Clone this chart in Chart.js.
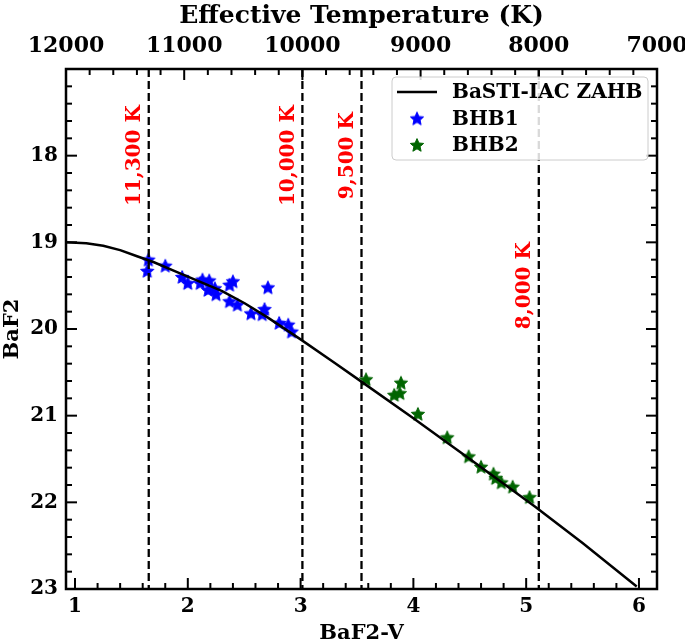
<!DOCTYPE html>
<html>
<head>
<meta charset="utf-8">
<script src="https://cdn.jsdelivr.net/npm/chart.js@4"></script>
<style>
  html, body { margin: 0; padding: 0; background: #fff; }
  #chart { display: block; }
</style>
</head>
<body>
<canvas id="chart" width="685" height="644"></canvas>
<script>
// ZAHB model line (BaF2-V, BaF2)
const zahbX = [0.92, 1.10, 1.25, 1.40, 1.55, 1.70, 1.90, 2.10, 2.30, 2.50, 2.70, 3.00, 3.30, 3.52, 4.00, 4.50, 5.08, 5.50, 5.98];
const zahbY = [19.00, 19.01, 19.04, 19.09, 19.16, 19.23, 19.34, 19.45, 19.56, 19.70, 19.86, 20.12, 20.39, 20.59, 21.03, 21.50, 22.05, 22.47, 22.97];

// BHB1 stars
const bhb1X = [1.64, 1.65, 1.80, 1.95, 2.00, 2.11, 2.13, 2.19, 2.18, 2.24, 2.25, 2.37, 2.40, 2.37, 2.44, 2.56, 2.66, 2.68, 2.71, 2.81, 2.89, 2.92];
const bhb1Y = [19.33, 19.20, 19.27, 19.40, 19.47, 19.47, 19.43, 19.44, 19.55, 19.53, 19.60, 19.49, 19.45, 19.68, 19.72, 19.82, 19.83, 19.77, 19.52, 19.93, 19.95, 20.03];

// BHB2 stars
const bhb2X = [3.58, 3.89, 3.83, 3.88, 4.04, 4.30, 4.49, 4.60, 4.71, 4.73, 4.78, 4.88, 5.03];
const bhb2Y = [20.58, 20.62, 20.76, 20.74, 20.98, 21.25, 21.47, 21.59, 21.67, 21.72, 21.77, 21.82, 21.94];

// temperature marker lines and their labels
const tempLines = [11300, 10000, 9500, 8000];
const tempLabels = ['11,300 K', '10,000 K', '9,500 K', '8,000 K'];
const tempLabelY = [18.0, 18.0, 18.0, 19.5];

// axis ticks
const xTicks = [1, 2, 3, 4, 5, 6];
const yTicks = [18, 19, 20, 21, 22, 23];
const tTicks = [12000, 11000, 10000, 9000, 8000, 7000];

const FONT = 'DejaVu Serif';

function makeStar(color, size) {
    const c = document.createElement('canvas');
    c.width = size;
    c.height = size;
    const g = c.getContext('2d');
    const cx = size / 2, cy = size / 2 + 0.6;
    const R = size / 2 - 1, r = R * 0.46;
    g.beginPath();
    for (let i = 0; i < 10; i++) {
        const a = -Math.PI / 2 + i * Math.PI / 5;
        const rad = i % 2 ? r : R;
        g.lineTo(cx + rad * Math.cos(a), cy + rad * Math.sin(a));
    }
    g.closePath();
    g.fillStyle = color;
    g.fill();
    g.lineJoin = 'round';
    g.lineWidth = 1;
    g.strokeStyle = color;
    g.stroke();
    return c;
}

const blueStar = makeStar('#0000ff', 16);
const greenStar = makeStar('#006400', 16);

const toPoints = (xs, ys) => xs.map((x, i) => ({ x: x, y: ys[i] }));

const datasets = [];

tempLines.forEach(t => {
    datasets.push({
        label: '_' + t,
        data: [{ x: t, y: 17 }, { x: t, y: 23 }],
        xAxisID: 'xT',
        yAxisID: 'y',
        showLine: true,
        borderColor: '#000',
        borderWidth: 2.3,
        borderDash: [8, 4],
        pointRadius: 0
    });
});

datasets.push({
    label: 'BaSTI-IAC ZAHB',
    data: toPoints(zahbX, zahbY),
    xAxisID: 'x',
    yAxisID: 'y',
    showLine: true,
    borderColor: '#000',
    borderWidth: 2.5,
    borderJoinStyle: 'round',
    pointRadius: 0
});
datasets.push({
    label: 'BHB1',
    data: toPoints(bhb1X, bhb1Y),
    xAxisID: 'x',
    yAxisID: 'y',
    pointStyle: blueStar,
    pointRadius: 8
});
datasets.push({
    label: 'BHB2',
    data: toPoints(bhb2X, bhb2Y),
    xAxisID: 'x',
    yAxisID: 'y',
    pointStyle: greenStar,
    pointRadius: 8
});

function fixSize(prop, size) {
    return function(scale) {
        scale[prop] = size;
        scale.paddingLeft = 0;
        scale.paddingRight = 0;
        scale.paddingTop = 0;
        scale.paddingBottom = 0;
    };
}

// frame, inward ticks, temperature labels and legend
const decorPlugin = {
    id: 'decor',
    afterDatasetsDraw(chart) {
        const ctx = chart.ctx;
        const xT = chart.scales.xT;
        const y = chart.scales.y;
        ctx.save();
        ctx.fillStyle = '#ff0000';
        ctx.font = 'bold 20px "' + FONT + '"';
        ctx.textAlign = 'center';
        ctx.textBaseline = 'middle';
        tempLines.forEach((t, i) => {
            const px = xT.getPixelForValue(t) - 14;
            const py = y.getPixelForValue(tempLabelY[i]);
            ctx.save();
            ctx.translate(px, py);
            ctx.rotate(-Math.PI / 2);
            ctx.fillText(tempLabels[i], 0, 0);
            ctx.restore();
        });
        ctx.restore();
    },
    afterDraw(chart) {
        const ctx = chart.ctx;
        const a = chart.chartArea;
        const x = chart.scales.x;
        const xT = chart.scales.xT;
        const y = chart.scales.y;
        ctx.save();
        ctx.strokeStyle = '#000';
        ctx.lineWidth = 2;

        const line = (x1, y1, x2, y2) => {
            ctx.beginPath();
            ctx.moveTo(x1, y1);
            ctx.lineTo(x2, y2);
            ctx.stroke();
        };

        // bottom axis
        for (let v = 1; v <= 6.001; v += 0.2) {
            const major = Math.abs(v - Math.round(v)) < 1e-6;
            const px = x.getPixelForValue(v);
            line(px, a.bottom, px, a.bottom - (major ? 11 : 6));
        }
        // top axis (temperature)
        for (let t = 12000; t >= 7000; t -= 200) {
            const major = t % 1000 === 0;
            const px = xT.getPixelForValue(t);
            line(px, a.top, px, a.top + (major ? 11 : 6));
        }
        // left and right axes
        for (let v = 17; v <= 23.001; v += 0.2) {
            const major = Math.abs(v - Math.round(v)) < 1e-6;
            const py = y.getPixelForValue(v);
            const len = major ? 11 : 6;
            line(a.left, py, a.left + len, py);
            line(a.right, py, a.right - len, py);
        }

        ctx.lineWidth = 2.5;
        ctx.strokeRect(a.left, a.top, a.right - a.left, a.bottom - a.top);

        // legend
        const lx = 392, ly = 77, lw = 256, lh = 83;
        ctx.beginPath();
        ctx.roundRect(lx, ly, lw, lh, 4);
        ctx.fillStyle = 'rgba(255,255,255,0.85)';
        ctx.fill();
        ctx.lineWidth = 1;
        ctx.strokeStyle = '#cccccc';
        ctx.stroke();

        const items = chart.data.datasets.filter(d => d.label[0] !== '_');
        ctx.font = 'bold 20px "' + FONT + '"';
        ctx.textAlign = 'left';
        ctx.textBaseline = 'middle';
        ctx.fillStyle = '#000';
        items.forEach((d, i) => {
            const ry = 92 + i * 26.5;
            if (d.showLine) {
                ctx.strokeStyle = d.borderColor;
                ctx.lineWidth = d.borderWidth;
                line(397, ry, 437, ry);
            } else {
                const img = d.pointStyle;
                ctx.drawImage(img, 417 - img.width / 2, ry - img.height / 2);
            }
            ctx.fillText(d.label, 452, ry + 1);
        });
        ctx.restore();
    }
};

new Chart(document.getElementById('chart'), {
    type: 'scatter',
    data: { datasets: datasets },
    options: {
        responsive: false,
        animation: false,
        devicePixelRatio: 1,
        layout: { padding: { left: 0, right: 28, top: 0, bottom: 0 } },
        plugins: {
            legend: { display: false },
            tooltip: { enabled: false }
        },
        scales: {
            x: {
                type: 'linear',
                position: 'bottom',
                min: 0.92,
                max: 6.16,
                grid: { display: false, drawTicks: false },
                border: { display: false },
                afterBuildTicks: s => { s.ticks = xTicks.map(v => ({ value: v })); },
                afterFit: fixSize('height', 55),
                ticks: {
                    autoSkip: false,
                    maxRotation: 0,
                    padding: 6,
                    color: '#000',
                    font: { family: FONT, size: 20, weight: 'bold' },
                    callback: v => String(v)
                },
                title: {
                    display: true,
                    text: 'BaF2-V',
                    color: '#000',
                    padding: { top: 0, bottom: -2 },
                    font: { family: FONT, size: 21, weight: 'bold' }
                }
            },
            xT: {
                type: 'linear',
                position: 'top',
                min: 7000,
                max: 12000,
                reverse: true,
                grid: { display: false, drawTicks: false },
                border: { display: false },
                afterBuildTicks: s => { s.ticks = tTicks.map(v => ({ value: v })); },
                afterFit: fixSize('height', 69),
                ticks: {
                    autoSkip: false,
                    maxRotation: 0,
                    padding: 10,
                    color: '#000',
                    font: { family: FONT, size: 22, weight: 'bold' },
                    callback: v => String(v)
                },
                title: {
                    display: true,
                    text: 'Effective Temperature (K)',
                    color: '#000',
                    padding: { top: 1, bottom: 0 },
                    font: { family: FONT, size: 25, weight: 'bold' }
                }
            },
            y: {
                type: 'linear',
                position: 'left',
                min: 17,
                max: 23,
                reverse: true,
                grid: { display: false, drawTicks: false },
                border: { display: false },
                afterBuildTicks: s => { s.ticks = yTicks.map(v => ({ value: v })); },
                afterFit: fixSize('width', 66),
                ticks: {
                    autoSkip: false,
                    padding: 8,
                    color: '#000',
                    font: { family: FONT, size: 20, weight: 'bold' },
                    callback: v => String(v)
                },
                title: {
                    display: true,
                    text: 'BaF2',
                    color: '#000',
                    padding: 0,
                    font: { family: FONT, size: 21, weight: 'bold' }
                }
            }
        }
    },
    plugins: [decorPlugin]
});
</script>
</body>
</html>
